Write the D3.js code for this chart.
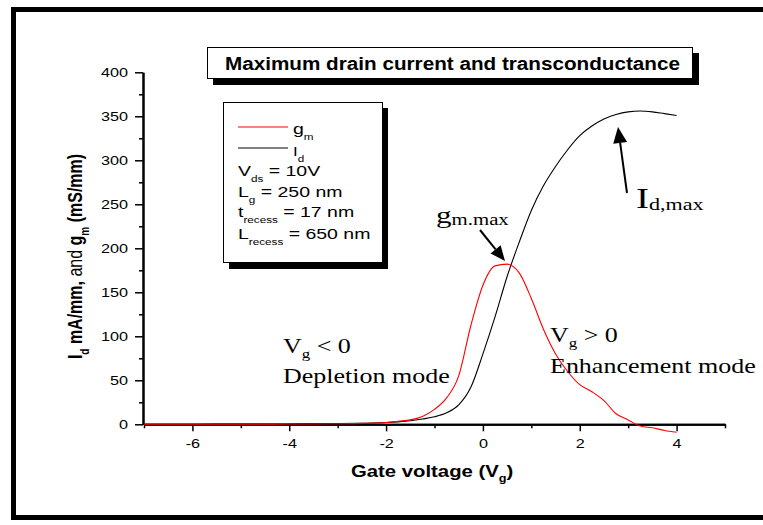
<!DOCTYPE html>
<html><head><meta charset="utf-8">
<script src="https://cdn.jsdelivr.net/npm/d3@7"></script>
<style>html,body{margin:0;padding:0;background:#fff;overflow:hidden} text{white-space:pre}</style>
</head><body>
<svg id="c" width="763" height="525" xmlns="http://www.w3.org/2000/svg"></svg>
<script>
// ---- data ----
const gateVoltage = [-7,-6,-5,-4,-3,-2.5,-2,-1.75,-1.5,-1.25,-1,-0.75,-0.5,-0.25,0,0.25,0.5,0.75,1,1.25,1.5,1.75,2,2.25,2.5,2.75,3,3.25,3.5,3.75,4];
const drainCurrent = [0,0.1,0.2,0.4,0.8,1.2,2,2.8,4,6,8.5,13,22,42,80,122,168,207,243,271,293,312,328,339,347,352,355,356,355,353,351];
const transconductance = [0,0,0,0.3,0.6,1,2,3.5,5,9,17,30,55,112,158,180,182,172,143,108,80,60,45,37,27,12,5,-2,-4,-7,-9];
const xMajorTicks = [-6,-4,-2,0,2,4];
const xMinorTicks = [-7,-5,-3,-1,1,3,5];
const yMajorTicks = [0,50,100,150,200,250,300,350,400];
const yMinorTicks = [25,75,125,175,225,275,325,375];
const titleText = "Maximum drain current and transconductance";
const legendSeries = [{name:"g", sub:"m", color:"#ff0000"},{name:"I", sub:"d", color:"#000000"}];
const legendParams = [
  {main:"V", sub:"ds", rest:" = 10V"},
  {main:"L", sub:"g", rest:" = 250 nm"},
  {main:"t", sub:"recess", rest:" = 17 nm"},
  {main:"L", sub:"recess", rest:" = 650 nm"}
];

const SANS = "Arial, 'Liberation Sans', Helvetica, sans-serif";
const SERIF = "'Times New Roman', 'Liberation Serif', serif";
const SX = 1.3;

const svg = d3.select("#c");
svg.append("rect").attr("width",763).attr("height",525).attr("fill","#fff");

// outer frame
svg.append("rect").attr("x",13.5).attr("y",9.5).attr("width",780).attr("height",508)
  .attr("fill","none").attr("stroke","#000").attr("stroke-width",5);

const x = d3.scaleLinear().domain([-7,5]).range([144,725]);
const y = d3.scaleLinear().domain([0,400]).range([424.3,72.3]);

// text built from tspans; subscripts use relative dy so the text stays one chunk
function addParts(t, parts){
  let cur = 0;
  parts.forEach(p => {
    const target = p.off || 0;
    const s = t.append("tspan").attr("dy", target - cur).text(p.t);
    cur = target;
    if (p.size) s.attr("font-size", p.size);
    if (p.weight) s.attr("font-weight", p.weight);
  });
}
function stext(parent, px, py, parts, o) {
  const t = parent.append("text")
    .attr("transform", `translate(${px},${py}) scale(${o.sx||SX},1)`)
    .attr("font-family", o.family).attr("font-size", o.size)
    .attr("font-weight", o.weight||"normal").attr("fill","#000");
  if (o.anchor) t.attr("text-anchor", o.anchor);
  addParts(t, parts);
  return t;
}

// ---- axes ----
const xAxisMinor = d3.axisBottom(x).tickValues(xMinorTicks).tickSize(4).tickSizeOuter(0).tickFormat("");
const xAxisMajor = d3.axisBottom(x).tickValues(xMajorTicks).tickSize(7).tickSizeOuter(0)
  .tickFormat(d => String(d));
const yAxisMinor = d3.axisLeft(y).tickValues(yMinorTicks).tickSize(4).tickSizeOuter(0).tickFormat("");
const yAxisMajor = d3.axisLeft(y).tickValues(yMajorTicks).tickSize(8).tickSizeOuter(0);

function styleAxis(g){
  g.select(".domain").attr("stroke","#000").attr("stroke-width",2);
  g.selectAll(".tick line").attr("stroke","#000").attr("stroke-width",1.5);
  g.selectAll("text").attr("font-family",SANS).attr("font-size",12).attr("fill","#000");
}
const gxm = svg.append("g").attr("transform","translate(0,424.3)").call(xAxisMinor); styleAxis(gxm);
const gx = svg.append("g").attr("transform","translate(0,424.3)").call(xAxisMajor); styleAxis(gx);
gx.selectAll(".tick text").attr("y",0).attr("dy",0).attr("transform","translate(0,23.7) scale(1.35,1)");
const gym = svg.append("g").attr("transform","translate(143,0)").call(yAxisMinor); styleAxis(gym);
const gy = svg.append("g").attr("transform","translate(143,0)").call(yAxisMajor); styleAxis(gy);
gy.selectAll(".tick text").attr("x",0).attr("dy",0).attr("transform","translate(-15,4.3) scale(1.35,1)");

// axis titles
stext(svg, 351, 476.7, [
  {t:"Gate voltage (V"},{t:"g", size:10, off:5},{t:")"}
], {family:SANS, size:16, weight:"bold", sx:1.27});

const yl = svg.append("text")
  .attr("transform","translate(82,256.5) rotate(-90) scale(1,1.3)")
  .attr("text-anchor","middle").attr("font-family",SANS).attr("font-size",16)
  .attr("font-weight","bold").attr("fill","#000");
addParts(yl, [{t:"I"},{t:"d",size:10,off:5},{t:" mA/mm, "},{t:"and",weight:"normal"},{t:" g"},{t:"m",size:10,off:5},{t:" (mS/mm)"}]);

// ---- curves ----
const pts = (ys) => gateVoltage.map((v,i)=>[v, ys[i]]);
const line = d3.line().x(d=>x(d[0])).y(d=>y(d[1])).curve(d3.curveMonotoneX);
svg.append("path").attr("d", line(pts(drainCurrent))).attr("fill","none").attr("stroke","#000").attr("stroke-width",1.1);
svg.append("path").attr("d", line(pts(transconductance))).attr("fill","none").attr("stroke","#ff0000").attr("stroke-width",1.1);

// ---- title box ----
svg.append("rect").attr("x",213).attr("y",53).attr("width",486).attr("height",32).attr("fill","#000");
svg.append("rect").attr("x",207.5).attr("y",47.5).attr("width",485).attr("height",31).attr("fill","#fff").attr("stroke","#000").attr("stroke-width",1);
svg.append("text").attr("x",225).attr("y",70).attr("font-family",SANS).attr("font-size",18).attr("font-weight","bold")
  .attr("textLength",455).attr("lengthAdjust","spacingAndGlyphs").attr("fill","#000").text(titleText);

// ---- legend box ----
const lg = svg.append("g");
lg.append("rect").attr("x",229).attr("y",108).attr("width",159).attr("height",161).attr("fill","#000");
lg.append("rect").attr("x",223.5).attr("y",102.5).attr("width",159).attr("height",160).attr("fill","#fff").attr("stroke","#000").attr("stroke-width",1);
const legY = [127, 148];
legendSeries.forEach((s,i) => {
  lg.append("line").attr("x1",238).attr("x2",288).attr("y1",legY[i]).attr("y2",legY[i]).attr("stroke",s.color).attr("stroke-width",1);
  stext(lg, 293, legY[i]+(i===0?7:8), [{t:s.name},{t:s.sub,size:9,off:6}], {family:SANS, size: i===0?15:13});
});
const paramY = [176, 197, 217, 239];
legendParams.forEach((p,i) => {
  stext(lg, 238, paramY[i], [{t:p.main},{t:p.sub,size:9,off:6},{t:p.rest}], {family:SANS, size:15});
});

// ---- annotations ----
stext(svg, 283, 353, [{t:"V"},{t:"g",size:13,off:5},{t:" < 0"}], {family:SERIF,size:20});
stext(svg, 283, 383, [{t:"Depletion mode"}], {family:SERIF,size:20});
stext(svg, 550, 342, [{t:"V"},{t:"g",size:13,off:5},{t:" > 0"}], {family:SERIF,size:20});
stext(svg, 550, 373, [{t:"Enhancement mode"}], {family:SERIF,size:20});
stext(svg, 436, 223, [{t:"g",size:24},{t:"m.max",size:16,off:2}], {family:SERIF,size:24});
stext(svg, 636, 208, [{t:"I",size:30},{t:"d,max",size:17,off:2}], {family:SERIF,size:30});

function arrow(x1,y1,x2,y2,len,w){
  const a = Math.atan2(y2-y1,x2-x1);
  const bx = x2 - len*Math.cos(a), by = y2 - len*Math.sin(a);
  svg.append("line").attr("x1",x1).attr("y1",y1).attr("x2",bx).attr("y2",by).attr("stroke","#000").attr("stroke-width",2);
  const px = -Math.sin(a)*w/2, py = Math.cos(a)*w/2;
  svg.append("path").attr("d",`M${x2},${y2}L${bx+px},${by+py}L${bx-px},${by-py}Z`).attr("fill","#000");
}
arrow(480,230,505,261,15,13);
arrow(627,193,618,127,16,14);
</script>
</body></html>
